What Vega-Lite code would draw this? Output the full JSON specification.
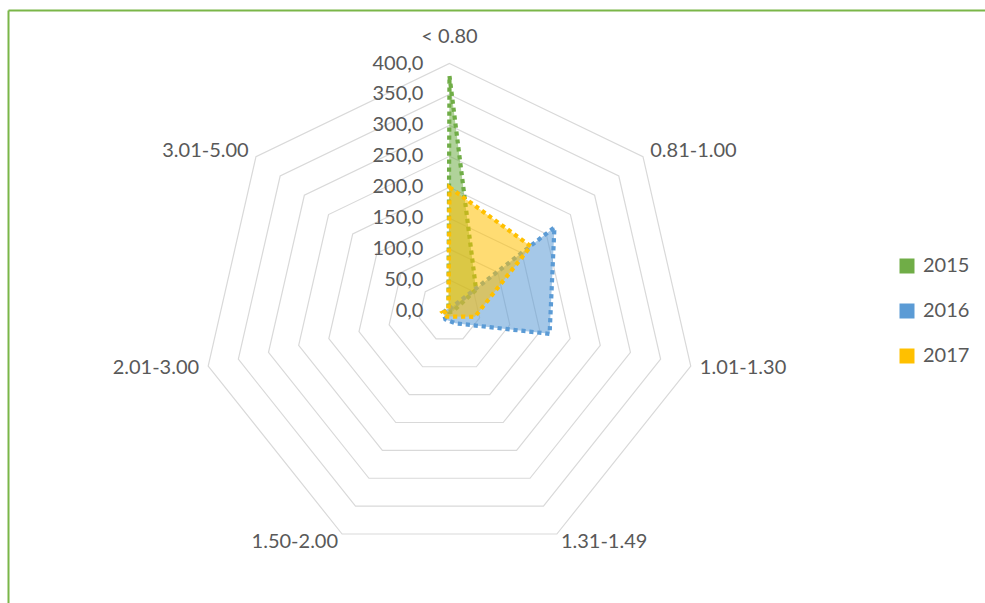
{
  "$schema": "https://vega.github.io/schema/vega-lite/v6.json",
  "width": 977,
  "height": 593,
  "autosize": {"type": "none"},
  "padding": {"left": 8, "top": 10, "right": 0, "bottom": 0},
  "background": "#ffffff",
  "config": {
    "view": {"stroke": null},
    "font": "Lato",
    "locale": {"number": {"decimal": ",", "thousands": ".", "grouping": [3], "currency": ["", " €"]}}
  },
  "datasets": {
    "radar": [
      {"year": "2015", "k": 0, "cat": "< 0.80", "value": 380},
      {"year": "2015", "k": 1, "cat": "0.81-1.00", "value": 55},
      {"year": "2015", "k": 2, "cat": "1.01-1.30", "value": 5},
      {"year": "2015", "k": 3, "cat": "1.31-1.49", "value": 2},
      {"year": "2015", "k": 4, "cat": "1.50-2.00", "value": 2},
      {"year": "2015", "k": 5, "cat": "2.01-3.00", "value": 2},
      {"year": "2015", "k": 6, "cat": "3.01-5.00", "value": 2},
      {"year": "2016", "k": 0, "cat": "< 0.80", "value": 3},
      {"year": "2016", "k": 1, "cat": "0.81-1.00", "value": 217},
      {"year": "2016", "k": 2, "cat": "1.01-1.30", "value": 166},
      {"year": "2016", "k": 3, "cat": "1.31-1.49", "value": 22},
      {"year": "2016", "k": 4, "cat": "1.50-2.00", "value": 15},
      {"year": "2016", "k": 5, "cat": "2.01-3.00", "value": 10},
      {"year": "2016", "k": 6, "cat": "3.01-5.00", "value": 5},
      {"year": "2017", "k": 0, "cat": "< 0.80", "value": 200},
      {"year": "2017", "k": 1, "cat": "0.81-1.00", "value": 168},
      {"year": "2017", "k": 2, "cat": "1.01-1.30", "value": 42},
      {"year": "2017", "k": 3, "cat": "1.31-1.49", "value": 10},
      {"year": "2017", "k": 4, "cat": "1.50-2.00", "value": 10},
      {"year": "2017", "k": 5, "cat": "2.01-3.00", "value": 11},
      {"year": "2017", "k": 6, "cat": "3.01-5.00", "value": 2}
    ],
    "rings": [
      {"r": 50, "k": [0, 1, 2, 3, 4, 5, 6]},
      {"r": 100, "k": [0, 1, 2, 3, 4, 5, 6]},
      {"r": 150, "k": [0, 1, 2, 3, 4, 5, 6]},
      {"r": 200, "k": [0, 1, 2, 3, 4, 5, 6]},
      {"r": 250, "k": [0, 1, 2, 3, 4, 5, 6]},
      {"r": 300, "k": [0, 1, 2, 3, 4, 5, 6]},
      {"r": 350, "k": [0, 1, 2, 3, 4, 5, 6]},
      {"r": 400, "k": [0, 1, 2, 3, 4, 5, 6]}
    ],
    "ticks": [
      {"v": 0}, {"v": 50}, {"v": 100}, {"v": 150}, {"v": 200},
      {"v": 250}, {"v": 300}, {"v": 350}, {"v": 400}
    ],
    "cats": [
      {"k": 0, "cat": "< 0.80"},
      {"k": 1, "cat": "0.81-1.00"},
      {"k": 2, "cat": "1.01-1.30"},
      {"k": 3, "cat": "1.31-1.49"},
      {"k": 4, "cat": "1.50-2.00"},
      {"k": 5, "cat": "2.01-3.00"},
      {"k": 6, "cat": "3.01-5.00"}
    ]
  },
  "encoding": {
    "x": {
      "field": "x", "type": "quantitative",
      "scale": {"domain": [-713.5, 865.5], "nice": false, "zero": false},
      "axis": {"orient": "top", "title": null, "labels": false, "ticks": false, "grid": false, "domainColor": "#7AB648", "domainWidth": 2}
    },
    "y": {
      "field": "y", "type": "quantitative",
      "scale": {"domain": [-471.9, 486.5], "nice": false, "zero": false},
      "axis": {"orient": "left", "title": null, "labels": false, "ticks": false, "grid": false, "domainColor": "#7AB648", "domainWidth": 2}
    }
  },
  "layer": [
    {
      "data": {"name": "rings"},
      "transform": [
        {"flatten": ["k"]},
        {"calculate": "datum.r * sin(datum.k * 2 * PI / 7)", "as": "x"},
        {"calculate": "datum.r * cos(datum.k * 2 * PI / 7)", "as": "y"}
      ],
      "mark": {"type": "line", "interpolate": "linear-closed", "stroke": "#D9D9D9", "strokeWidth": 1.2},
      "encoding": {
        "detail": {"field": "r", "type": "nominal"},
        "order": {"field": "k", "type": "quantitative"}
      }
    },
    {
      "data": {"name": "radar"},
      "transform": [
        {"calculate": "datum.value * sin(datum.k * 2 * PI / 7)", "as": "x"},
        {"calculate": "datum.value * cos(datum.k * 2 * PI / 7)", "as": "y"}
      ],
      "mark": {"type": "line", "interpolate": "linear-closed", "strokeWidth": 4.2, "strokeDash": [4.2, 3.8], "strokeCap": "butt", "fillOpacity": 0.55},
      "encoding": {
        "stroke": {
          "field": "year", "type": "nominal",
          "scale": {"domain": ["2015", "2016", "2017"], "range": ["#70AD47", "#5B9BD5", "#FFC000"]},
          "legend": null
        },
        "fill": {
          "field": "year", "type": "nominal",
          "scale": {"domain": ["2015", "2016", "2017"], "range": ["#70AD47", "#5B9BD5", "#FFC000"]},
          "legend": {
            "orient": "none", "legendX": 889, "legendY": 246, "title": null,
            "symbolType": "square", "symbolSize": 225, "symbolStrokeWidth": 0, "symbolOpacity": 1,
            "labelFontSize": 20, "labelColor": "#595959", "labelFont": "Lato",
            "rowPadding": 25, "labelOffset": 6, "padding": 0
          }
        },
        "order": {"field": "k", "type": "quantitative"}
      }
    },
    {
      "data": {"name": "ticks"},
      "transform": [
        {"calculate": "0", "as": "x"},
        {"calculate": "datum.v", "as": "y"}
      ],
      "mark": {"type": "text", "align": "right", "baseline": "middle", "dx": -26, "fontSize": 20, "fill": "#595959"},
      "encoding": {
        "text": {"field": "v", "type": "quantitative", "format": ".1f"}
      }
    },
    {
      "data": {"name": "cats"},
      "transform": [
        {"filter": "datum.k == 0"},
        {"calculate": "415 * sin(datum.k * 2 * PI / 7)", "as": "x"},
        {"calculate": "415 * cos(datum.k * 2 * PI / 7)", "as": "y"}
      ],
      "mark": {"type": "text", "align": "center", "baseline": "middle", "dy": -17, "fontSize": 20, "fill": "#595959"},
      "encoding": {"text": {"field": "cat", "type": "nominal"}}
    },
    {
      "data": {"name": "cats"},
      "transform": [
        {"filter": "datum.k >= 1 && datum.k <= 3"},
        {"calculate": "415 * sin(datum.k * 2 * PI / 7)", "as": "x"},
        {"calculate": "415 * cos(datum.k * 2 * PI / 7)", "as": "y"}
      ],
      "mark": {"type": "text", "align": "left", "baseline": "middle", "fontSize": 20, "fill": "#595959"},
      "encoding": {"text": {"field": "cat", "type": "nominal"}}
    },
    {
      "data": {"name": "cats"},
      "transform": [
        {"filter": "datum.k >= 4"},
        {"calculate": "415 * sin(datum.k * 2 * PI / 7)", "as": "x"},
        {"calculate": "415 * cos(datum.k * 2 * PI / 7)", "as": "y"}
      ],
      "mark": {"type": "text", "align": "right", "baseline": "middle", "fontSize": 20, "fill": "#595959"},
      "encoding": {"text": {"field": "cat", "type": "nominal"}}
    }
  ]
}
